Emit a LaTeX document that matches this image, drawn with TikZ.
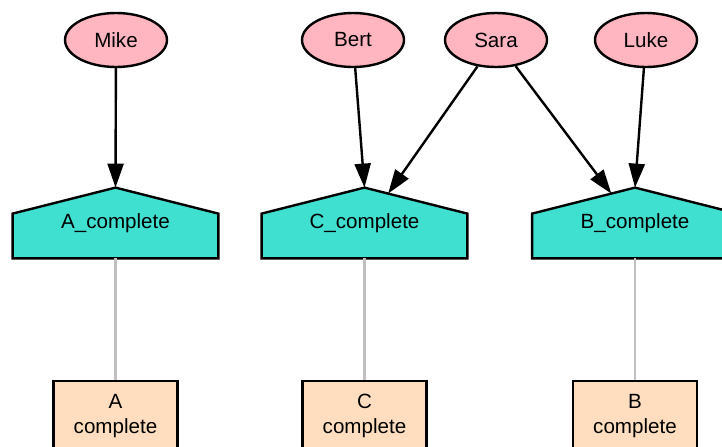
\documentclass[tikz,border=0pt]{standalone}
\usepackage{fontspec}
\setmainfont{Liberation Sans}
\usetikzlibrary{positioning,arrows.meta,calc,shapes.geometric}
\definecolor{cpink}{HTML}{FFB6C1}
\definecolor{cturq}{HTML}{40E0D0}
\definecolor{cpeach}{HTML}{FFDEBF}
\definecolor{cgray}{HTML}{C0C0C0}
\pgfdeclarelayer{background}
\pgfsetlayers{background,main}

\begin{document}
\begin{tikzpicture}[
  x=0.5pt, y=-0.5pt,
  person/.style={ellipse, draw, fill=cpink, line width=1.2pt, minimum width=51pt,
                 minimum height=27pt, inner sep=0pt, font=\fontsize{10.3}{12}\selectfont},
  house/.style={rectangle, minimum width=102.5pt, minimum height=35pt, inner sep=0pt,
                font=\fontsize{10.3}{12}\selectfont},
  houseline/.style={draw, fill=cturq, line width=1.2pt, line join=miter},
  done/.style={rectangle, draw, fill=cpeach, line width=1.2pt, anchor=north,
               minimum width=62pt, inner xsep=0pt, inner ysep=6.5pt, text depth=20pt,
               align=center, font=\fontsize{10.3}{12.4}\selectfont},
  arr/.style={-{Triangle[length=12pt,width=8pt]}, line width=1.2pt},
  link/.style={cgray, line width=1.2pt}
]
\useasboundingbox (0,0) rectangle (722,446);

% --- people ---
\node[person] (Mike) at (116,40) {Mike};
\node[person] (Bert) at (353,40) {Bert};
\node[person] (Sara) at (496,40) {Sara};
\node[person] (Luke) at (646,40) {Luke};

% --- tasks (house shapes) ---
\node[house] (A) at (115.5,223) {A\_complete};
\node[house] (C) at (364.5,223) {C\_complete};
\node[house] (B) at (635,223) {B\_complete};
\begin{pgfonlayer}{background}
\foreach \h in {A,C,B}
  \path[houseline] (\h.south west) -- (\h.south east) -- ([yshift=-13pt]\h.north east)
    -- (\h.north) -- ([yshift=-13pt]\h.north west) -- cycle;
\end{pgfonlayer}

% --- results ---
\node[done] (Abox) at (115.5,380) {A\\complete};
\node[done] (Cbox) at (364.5,380) {C\\complete};
\node[done] (Bbox) at (635,380) {B\\complete};

% --- edges ---
\coordinate (Cr) at ($(C.north)!0.23!([yshift=-13pt]C.north east)$);
\coordinate (Bl) at ($(B.north)!0.23!([yshift=-13pt]B.north west)$);
\draw[arr] (Mike) -- (A.north);
\draw[arr] (Bert) -- (C.north);
\draw[arr] (Sara) -- (Cr);
\draw[arr] (Sara) -- (Bl);
\draw[arr] (Luke) -- (B.north);

\draw[link] (A) -- (Abox);
\draw[link] (C) -- (Cbox);
\draw[link] (B) -- (Bbox);

\end{tikzpicture}
\end{document}
